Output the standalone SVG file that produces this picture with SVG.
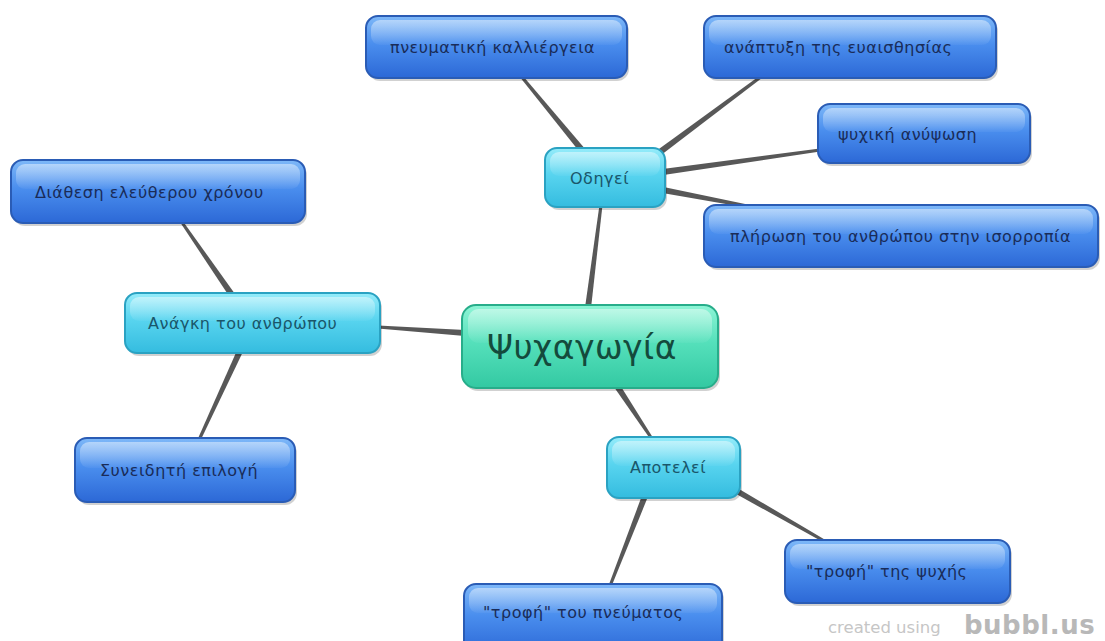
<svg xmlns="http://www.w3.org/2000/svg" width="1105" height="641" viewBox="0 0 1105 641">
<defs>
<linearGradient id="gBlue" x1="0" y1="0" x2="0" y2="1">
<stop offset="0" stop-color="#7eb8f8"/><stop offset="0.45" stop-color="#4a8eee"/><stop offset="1" stop-color="#2c68d6"/>
</linearGradient>
<linearGradient id="gCyan" x1="0" y1="0" x2="0" y2="1">
<stop offset="0" stop-color="#95ecfa"/><stop offset="0.45" stop-color="#58d4ef"/><stop offset="1" stop-color="#34bcdf"/>
</linearGradient>
<linearGradient id="gGreen" x1="0" y1="0" x2="0" y2="1">
<stop offset="0" stop-color="#8ef5d6"/><stop offset="0.45" stop-color="#55e0bb"/><stop offset="1" stop-color="#33c9a2"/>
</linearGradient>
<linearGradient id="gGloss" x1="0" y1="0" x2="0" y2="1">
<stop offset="0" stop-color="#ffffff" stop-opacity="0.45"/><stop offset="1" stop-color="#ffffff" stop-opacity="0.04"/>
</linearGradient>
</defs>
<style>
.conn polygon{fill:#585858}
.shadow{fill:#000;opacity:0.18}
.blue .body{fill:url(#gBlue);stroke:#2a5cb5;stroke-width:2}
.cyan .body{fill:url(#gCyan);stroke:#2aa2c2;stroke-width:2}
.green .body{fill:url(#gGreen);stroke:#27ad8a;stroke-width:2}
.gloss{fill:url(#gGloss)}
text{font-family:"DejaVu Sans","Noto Sans",sans-serif;font-size:16px;letter-spacing:0.5px}
.blue text{fill:#1a2c58}
.cyan text{fill:#1a566a}
.green text{fill:#144a3c;font-size:33px;letter-spacing:0.5px}
.wm1{fill:#c6c6c6;font-size:16.5px;letter-spacing:0}
.wm2{fill:#b8b8b8;font-size:26px;font-weight:bold;letter-spacing:0.5px}
</style>
<rect width="1105" height="641" fill="#ffffff"/>
<g id="connectors" class="conn">
<polygon points="590.98,308.38 602.49,205.19 599.51,204.81 585.02,307.62"/>
<polygon points="584.32,148.09 522.16,75.05 519.84,76.95 579.68,151.91"/>
<polygon points="661.79,154.41 762.9,77.2 761.1,74.8 658.21,149.59"/>
<polygon points="663.42,174.97 820.21,151.49 819.79,148.51 662.58,169.03"/>
<polygon points="662.44,192.95 751.72,208.47 752.28,205.53 663.56,187.05"/>
<polygon points="465.21,330.01 378.10,325.5 377.90,328.5 464.79,335.99"/>
<polygon points="234.47,293.3 182.23,220.15 179.77,221.85 229.53,296.7"/>
<polygon points="237.28,349.75 197.64,439.37 200.36,440.63 242.72,352.25"/>
<polygon points="614.5,387.65 650.75,439.83 653.25,438.17 619.5,384.35"/>
<polygon points="733.51,492.6 825.26,543.3 826.74,540.7 736.49,487.4"/>
<polygon points="642.2,494.91 608.6,585.46 611.4,586.54 647.8,497.09"/>
</g>
<g id="n-psychagogia" class="green">
<rect class="shadow" x="464" y="308" width="256" height="83" rx="14"/>
<rect class="body" x="462" y="305" width="256" height="83" rx="14"/>
<rect class="gloss" x="468" y="309" width="244" height="34" rx="11"/>
<text x="487" y="359">Ψυχαγωγία</text>
</g>
<g id="n-odigei" class="cyan">
<rect class="shadow" x="547" y="151" width="120" height="59" rx="12"/>
<rect class="body" x="545" y="148" width="120" height="59" rx="12"/>
<rect class="gloss" x="550" y="152" width="110" height="24" rx="9"/>
<text x="570" y="184">Οδηγεί</text>
</g>
<g id="n-pnevmatiki" class="blue">
<rect class="shadow" x="368" y="19" width="261" height="62" rx="12"/>
<rect class="body" x="366" y="16" width="261" height="62" rx="12"/>
<rect class="gloss" x="371" y="20" width="251" height="25" rx="9"/>
<text x="390" y="53">πνευματική καλλιέργεια</text>
</g>
<g id="n-anaptyxi" class="blue">
<rect class="shadow" x="706" y="19" width="292" height="62" rx="12"/>
<rect class="body" x="704" y="16" width="292" height="62" rx="12"/>
<rect class="gloss" x="709" y="20" width="282" height="25" rx="9"/>
<text x="724" y="53">ανάπτυξη της ευαισθησίας</text>
</g>
<g id="n-psychiki" class="blue">
<rect class="shadow" x="820" y="107" width="212" height="59" rx="12"/>
<rect class="body" x="818" y="104" width="212" height="59" rx="12"/>
<rect class="gloss" x="823" y="108" width="202" height="24" rx="9"/>
<text x="838" y="140">ψυχική ανύψωση</text>
</g>
<g id="n-plirosi" class="blue">
<rect class="shadow" x="706" y="208" width="394" height="62" rx="12"/>
<rect class="body" x="704" y="205" width="394" height="62" rx="12"/>
<rect class="gloss" x="709" y="209" width="384" height="25" rx="9"/>
<text x="730" y="242">πλήρωση του ανθρώπου στην ισορροπία</text>
</g>
<g id="n-anagki" class="cyan">
<rect class="shadow" x="127" y="296" width="255" height="60" rx="12"/>
<rect class="body" x="125" y="293" width="255" height="60" rx="12"/>
<rect class="gloss" x="130" y="297" width="245" height="24" rx="9"/>
<text x="148" y="329">Ανάγκη του ανθρώπου</text>
</g>
<g id="n-diathesi" class="blue">
<rect class="shadow" x="13" y="163" width="294" height="63" rx="12"/>
<rect class="body" x="11" y="160" width="294" height="63" rx="12"/>
<rect class="gloss" x="16" y="164" width="284" height="25" rx="9"/>
<text x="35" y="198">Διάθεση ελεύθερου χρόνου</text>
</g>
<g id="n-syneiditi" class="blue">
<rect class="shadow" x="77" y="441" width="220" height="64" rx="12"/>
<rect class="body" x="75" y="438" width="220" height="64" rx="12"/>
<rect class="gloss" x="80" y="442" width="210" height="26" rx="9"/>
<text x="100" y="476">Συνειδητή επιλογή</text>
</g>
<g id="n-apotelei" class="cyan">
<rect class="shadow" x="609" y="440" width="133" height="61" rx="12"/>
<rect class="body" x="607" y="437" width="133" height="61" rx="12"/>
<rect class="gloss" x="612" y="441" width="123" height="25" rx="9"/>
<text x="630" y="473">Αποτελεί</text>
</g>
<g id="n-trofi-psychis" class="blue">
<rect class="shadow" x="787" y="543" width="225" height="63" rx="12"/>
<rect class="body" x="785" y="540" width="225" height="63" rx="12"/>
<rect class="gloss" x="790" y="544" width="215" height="25" rx="9"/>
<text x="806" y="577">"τροφή" της ψυχής</text>
</g>
<g id="n-trofi-pnevmatos" class="blue">
<rect class="shadow" x="466" y="587" width="258" height="70" rx="12"/>
<rect class="body" x="464" y="584" width="258" height="70" rx="12"/>
<rect class="gloss" x="469" y="588" width="248" height="25" rx="9"/>
<text x="483" y="618">"τροφή" του πνεύματος</text>
</g>
<g id="watermark">
<text class="wm1" x="828" y="633">created using</text>
<text class="wm2" x="964" y="634">bubbl.us</text>
</g>
</svg>
